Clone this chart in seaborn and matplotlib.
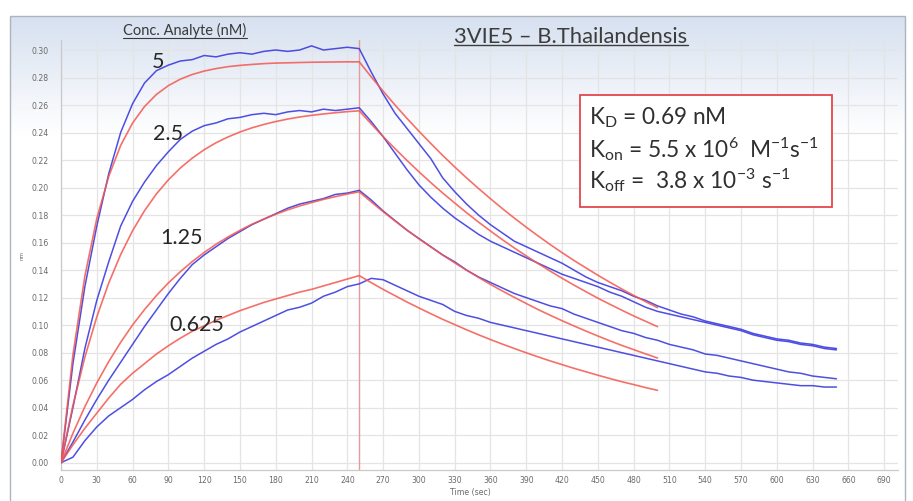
import numpy as np
import pandas as pd
import matplotlib
matplotlib.use("Agg")
import matplotlib.pyplot as plt
import seaborn as sns
from matplotlib.ticker import MultipleLocator
from matplotlib.patches import Rectangle
from matplotlib.lines import Line2D

# ---------------- data ----------------
t_blue = list(range(0, 651, 10))
blue_5 = [0.000, 0.072, 0.128, 0.172, 0.210, 0.240, 0.261, 0.276, 0.285, 0.289,
          0.292, 0.293, 0.296, 0.295, 0.297, 0.298, 0.297, 0.299, 0.300, 0.299,
          0.300, 0.303, 0.300, 0.301, 0.302, 0.301,
          0.284, 0.268, 0.254, 0.243, 0.232, 0.221, 0.207, 0.197, 0.188, 0.180,
          0.173, 0.167, 0.161, 0.157, 0.153, 0.149, 0.145, 0.140, 0.135, 0.131,
          0.128, 0.125, 0.121, 0.118, 0.114, 0.111, 0.108, 0.106, 0.103, 0.101,
          0.099, 0.097, 0.094, 0.092, 0.090, 0.089, 0.087, 0.086, 0.084, 0.083]
blue_2p5 = [0.000, 0.040, 0.083, 0.118, 0.146, 0.172, 0.190, 0.204, 0.216, 0.226,
            0.235, 0.241, 0.245, 0.247, 0.250, 0.251, 0.253, 0.254, 0.253, 0.255,
            0.256, 0.255, 0.257, 0.256, 0.257, 0.258,
            0.248, 0.237, 0.225, 0.213, 0.202, 0.193, 0.185, 0.178, 0.172, 0.166,
            0.161, 0.157, 0.153, 0.149, 0.145, 0.141, 0.137, 0.134, 0.131, 0.128,
            0.124, 0.121, 0.117, 0.113, 0.110, 0.108, 0.106, 0.104, 0.102, 0.100,
            0.098, 0.096, 0.093, 0.091, 0.089, 0.088, 0.086, 0.085, 0.083, 0.082]
blue_1p25 = [0.000, 0.015, 0.031, 0.046, 0.060, 0.073, 0.086, 0.099, 0.111, 0.123,
             0.134, 0.144, 0.151, 0.157, 0.163, 0.168, 0.173, 0.177, 0.181, 0.185,
             0.188, 0.190, 0.192, 0.195, 0.196, 0.198,
             0.191, 0.183, 0.176, 0.169, 0.163, 0.157, 0.151, 0.146, 0.140, 0.135,
             0.131, 0.127, 0.123, 0.120, 0.117, 0.114, 0.112, 0.108, 0.105, 0.102,
             0.099, 0.096, 0.094, 0.091, 0.089, 0.086, 0.084, 0.082, 0.079, 0.078,
             0.076, 0.074, 0.072, 0.070, 0.068, 0.066, 0.065, 0.063, 0.062, 0.061]
blue_0p625 = [0.000, 0.004, 0.016, 0.026, 0.034, 0.040, 0.046, 0.053, 0.059, 0.064,
              0.070, 0.076, 0.081, 0.086, 0.090, 0.095, 0.099, 0.103, 0.107, 0.111,
              0.113, 0.116, 0.121, 0.124, 0.128, 0.130,
              0.134, 0.133, 0.129, 0.125, 0.121, 0.118, 0.115, 0.110, 0.107, 0.105,
              0.102, 0.100, 0.098, 0.096, 0.094, 0.092, 0.090, 0.088, 0.086, 0.084,
              0.082, 0.080, 0.078, 0.076, 0.074, 0.072, 0.070, 0.068, 0.066, 0.065,
              0.063, 0.062, 0.060, 0.059, 0.058, 0.057, 0.056, 0.056, 0.055, 0.055]

t_fit = list(range(0, 501, 10))
fit_5 = [0.000, 0.0784, 0.1356, 0.1775, 0.2081, 0.2306, 0.2469, 0.2589, 0.2677, 0.2741,
         0.2788, 0.2822, 0.2847, 0.2865, 0.2879, 0.2888, 0.2895, 0.2901, 0.2905, 0.2907,
         0.2909, 0.2911, 0.2912, 0.2913, 0.2914, 0.2914,
         0.2805, 0.2701, 0.2600, 0.2503, 0.2410, 0.2320, 0.2233, 0.2150, 0.2070, 0.1993,
         0.1919, 0.1847, 0.1778, 0.1712, 0.1648, 0.1586, 0.1527, 0.1470, 0.1416, 0.1363,
         0.1312, 0.1263, 0.1216, 0.1171, 0.1127]
fit_2p5 = [0.000, 0.0417, 0.0767, 0.1060, 0.1306, 0.1513, 0.1686, 0.1832, 0.1954, 0.2056,
           0.2142, 0.2214, 0.2275, 0.2326, 0.2368, 0.2404, 0.2434, 0.2459, 0.2480, 0.2498,
           0.2513, 0.2525, 0.2535, 0.2544, 0.2552, 0.2558,
           0.2463, 0.2371, 0.2283, 0.2197, 0.2115, 0.2036, 0.1960, 0.1888, 0.1817, 0.1749,
           0.1684, 0.1621, 0.1561, 0.1503, 0.1447, 0.1393, 0.1341, 0.1291, 0.1243, 0.1196,
           0.1152, 0.1109, 0.1067, 0.1028, 0.0989]
fit_1p25 = [0.000, 0.0214, 0.0407, 0.0580, 0.0735, 0.0875, 0.1001, 0.1113, 0.1215, 0.1307,
            0.1388, 0.1462, 0.1528, 0.1588, 0.1641, 0.1689, 0.1733, 0.1771, 0.1806, 0.1838,
            0.1866, 0.1891, 0.1914, 0.1934, 0.1953, 0.1969,
            0.1896, 0.1825, 0.1757, 0.1691, 0.1628, 0.1568, 0.1509, 0.1453, 0.1399, 0.1347,
            0.1296, 0.1248, 0.1202, 0.1157, 0.1113, 0.1072, 0.1032, 0.0994, 0.0957, 0.0921,
            0.0886, 0.0853, 0.0822, 0.0791, 0.0761]
fit_0p625 = [0.000, 0.013, 0.025, 0.036, 0.047, 0.057, 0.065, 0.072, 0.079, 0.085,
             0.0905, 0.0955, 0.0995, 0.1035, 0.107, 0.1105, 0.1135, 0.1165, 0.119, 0.1215,
             0.124, 0.126, 0.1285, 0.131, 0.1335, 0.136,
             0.1309, 0.1260, 0.1214, 0.1168, 0.1125, 0.1083, 0.1042, 0.1004, 0.0966, 0.0930,
             0.0895, 0.0862, 0.0830, 0.0799, 0.0769, 0.0740, 0.0713, 0.0686, 0.0661, 0.0636,
             0.0612, 0.0589, 0.0568, 0.0546, 0.0526]

conc_labels = ["5", "2.5", "1.25", "0.625"]
label_x = [81, 90, 101, 114]
label_y = [0.2914, 0.2391, 0.1634, 0.1002]
injection_end = 250
x_ticks = list(range(0, 691, 30))
y_ticks = [round(0.02 * i, 2) for i in range(16)]
kinetics = [r"K$_{D}$ = 0.69 nM",
            r"K$_{on}$ = 5.5 x 10$^{6}$  M$^{-1}$s$^{-1}$",
            r"K$_{off}$ =  3.8 x 10$^{-3}$ s$^{-1}$"]

# ---------------- style ----------------
sns.set_style("white")
plt.rcParams["font.family"] = ["Lato", "DejaVu Sans"]
plt.rcParams["mathtext.fontset"] = "custom"
plt.rcParams["mathtext.rm"] = "Lato"
plt.rcParams["mathtext.it"] = "Lato:italic"
plt.rcParams["mathtext.bf"] = "Lato:bold"
plt.rcParams["mathtext.default"] = "regular"

W, H = 913, 501
fig = plt.figure(figsize=(W / 100, H / 100), dpi=100, facecolor="white")

# background (pixel coordinates)
bg = fig.add_axes([0, 0, 1, 1])
bg.set_xlim(0, W)
bg.set_ylim(H, 0)
bg.axis("off")
grad = np.linspace(0, 1, 200)[:, None]
top = np.array([0.84, 0.88, 0.94])
img = top[None, None, :] * (1 - grad[..., None]) + np.ones(3)[None, None, :] * grad[..., None]
img = np.repeat(img, 2, axis=1)
bg.imshow(img, extent=[10, 905, 135, 16], aspect="auto", zorder=0)
bg.add_patch(Rectangle((10, 16), 895, 500, fill=False, edgecolor="#aeb4bc", lw=1.0, zorder=1))

# main axes
x0, x1, ytop, ybot = 61, 898, 40, 470
ax = fig.add_axes([x0 / W, 1 - ybot / H, (x1 - x0) / W, (ybot - ytop) / H])
ax.set_facecolor("none")
ax.set_xlim(0, (x1 - x0) / 1.193)
ax.set_ylim(-(ybot - 462.7) / 1375, 0.30 + (50 - ytop) / 1375)

ax.set_xticks(x_ticks)
ax.set_yticks(y_ticks)
ax.set_xticklabels([str(v) for v in x_ticks])
ax.set_yticklabels([f"{v:.2f}" for v in y_ticks])
ax.xaxis.set_minor_locator(MultipleLocator(5))
ax.yaxis.set_minor_locator(MultipleLocator(0.005))
ax.tick_params(axis="both", which="major", length=0, labelsize=5.6, labelcolor="#6a6a6a")
ax.tick_params(axis="y", which="major", pad=9)
ax.tick_params(axis="x", which="major", pad=4)
ax.tick_params(axis="both", which="minor", length=2, direction="in", color="#c4c4c4", width=0.6)
for lab in ax.get_xticklabels() + ax.get_yticklabels():
    lab.set_fontfamily("DejaVu Sans")
ax.grid(True, which="major", color="#e4e4e4", lw=0.9)
for side in ["top", "right"]:
    ax.spines[side].set_visible(False)
for side in ["left", "bottom"]:
    ax.spines[side].set_color("#c9c9c9")
    ax.spines[side].set_linewidth(0.9)

ax.axvline(injection_end, color="#e39b9b", lw=1.0, zorder=2)

blue_c = "#3b3be0"
red_c = "#f4574f"
for vals in [blue_5, blue_2p5, blue_1p25, blue_0p625]:
    sns.lineplot(x=t_blue, y=vals, ax=ax, color=blue_c, lw=1.1, alpha=0.9,
                 estimator=None, sort=False, zorder=3)
for vals in [fit_5, fit_2p5, fit_1p25, fit_0p625]:
    sns.lineplot(x=t_fit, y=vals, ax=ax, color=red_c, lw=1.2, alpha=0.85,
                 estimator=None, sort=False, zorder=4)
ax.set_xlabel("")
ax.set_ylabel("")

for lab, lx, ly in zip(conc_labels, label_x, label_y):
    ax.text(lx, ly, lab, fontsize=15.5, color="#262626", ha="center", va="center", zorder=6)

# overlay (pixel coordinates)
ov = fig.add_axes([0, 0, 1, 1])
ov.set_xlim(0, W)
ov.set_ylim(H, 0)
ov.axis("off")
ov.patch.set_alpha(0)

ov.add_patch(Rectangle((580, 95), 252, 112, facecolor="white", edgecolor="#e2474d", lw=1.3, zorder=5))
for txt, yb in zip(kinetics, [124, 157, 188]):
    ov.text(589, yb, txt, fontsize=16.3, color="#303030", ha="left", va="baseline", zorder=6)

t1 = ov.text(185, 30, "Conc. Analyte (nM)", fontsize=10.5, color="#3a3a3a", ha="center", va="center")
t2 = ov.text(571, 37, "3VIE5 \u2013 B.Thailandensis", fontsize=15.8, color="#3d3d3d", ha="center", va="center")
ov.text(470, 493, "Time (sec)", fontsize=5.6, color="#6a6a6a", ha="center", va="center",
        family="DejaVu Sans")
ov.text(22, 255, "nm", fontsize=4, color="#6a6a6a", ha="center", va="center", rotation=90,
        family="DejaVu Sans")

fig.canvas.draw()
inv = ov.transData.inverted()
for t, ypx, lw in [(t1, 38, 0.8), (t2, 45, 1.0)]:
    bb = t.get_window_extent()
    (xa, _), (xb, _) = inv.transform([[bb.x0, bb.y0], [bb.x1, bb.y0]])
    ov.add_line(Line2D([xa, xb], [ypx, ypx], color=t.get_color(), lw=lw))

fig.savefig("out.png", dpi=100, facecolor="white")
